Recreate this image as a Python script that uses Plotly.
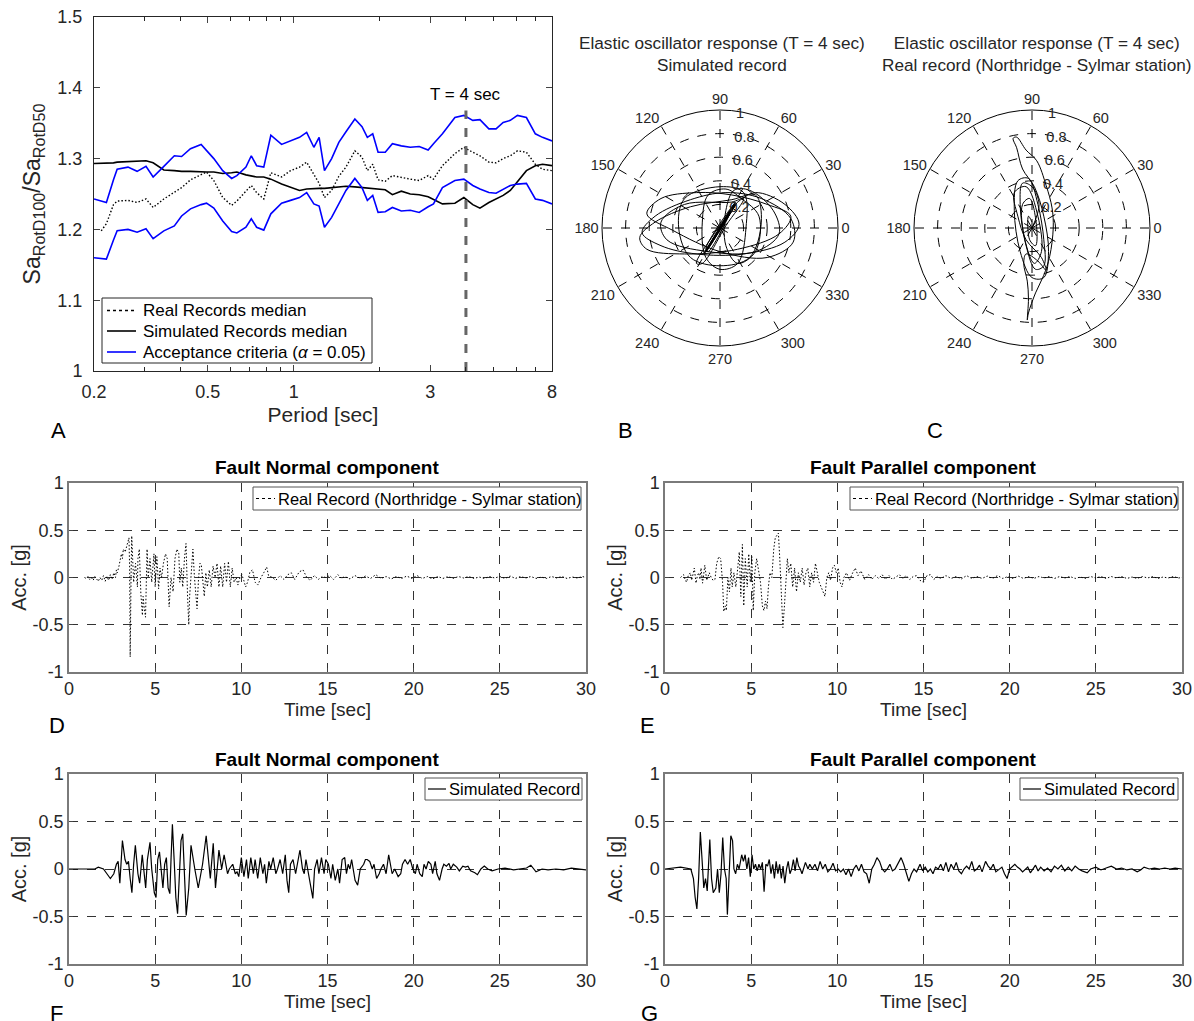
import plotly.graph_objects as go
import numpy as np

FONT = "Liberation Sans, Arial, Helvetica, sans-serif"

# ---------------- Panel A data ----------------
period = [0.2,0.212,0.221,0.234,0.241,0.263,0.283,0.304,0.322,0.351,0.382,0.405,0.435,0.474,0.495,
          0.525,0.564,0.606,0.632,0.680,0.710,0.741,0.785,0.831,0.906,0.974,1.047,1.109,1.175,1.226,
          1.280,1.356,1.437,1.522,1.635,1.732,1.808,1.888,1.971,2.088,2.212,2.377,2.554,2.745,2.950,
          3.080,3.310,3.660,3.934,4.227,4.477,4.812,5.097,5.398,5.718,6.056,6.510,6.995,7.410,8.0]
upper_crit = [1.243,1.240,1.238,1.270,1.285,1.288,1.282,1.289,1.274,1.289,1.304,1.303,1.314,1.320,1.311,
              1.300,1.283,1.272,1.276,1.288,1.304,1.290,1.288,1.333,1.320,1.325,1.330,1.337,1.316,1.330,
              1.283,1.300,1.323,1.338,1.356,1.345,1.330,1.335,1.309,1.309,1.321,1.318,1.316,1.317,1.312,
              1.321,1.335,1.358,1.361,1.354,1.355,1.342,1.342,1.351,1.354,1.361,1.358,1.335,1.330,1.325]
lower_crit = [1.160,1.159,1.158,1.185,1.198,1.200,1.196,1.201,1.187,1.198,1.205,1.219,1.229,1.235,1.237,
              1.230,1.212,1.197,1.195,1.203,1.215,1.203,1.199,1.222,1.237,1.241,1.245,1.252,1.236,1.233,
              1.203,1.217,1.236,1.255,1.272,1.259,1.241,1.248,1.224,1.225,1.231,1.226,1.227,1.224,1.232,
              1.236,1.259,1.269,1.271,1.262,1.257,1.252,1.251,1.257,1.262,1.264,1.265,1.243,1.241,1.236]
real_median = [None,1.198,1.208,1.235,1.240,1.241,1.238,1.243,1.231,1.243,1.253,1.259,1.270,1.277,1.281,
               1.269,1.245,1.234,1.240,1.254,1.262,1.252,1.243,1.280,1.274,1.283,1.288,1.295,1.278,1.265,
               1.245,1.255,1.275,1.288,1.311,1.302,1.283,1.292,1.270,1.268,1.276,1.273,1.271,1.269,1.276,
               1.271,1.290,1.307,1.316,1.309,1.304,1.295,1.294,1.300,1.304,1.311,1.309,1.292,1.285,1.283]
sim_median = [1.293,1.293,1.293,1.294,1.295,1.296,1.297,1.297,1.294,1.284,1.283,1.282,1.282,1.281,1.281,
              1.281,1.279,1.280,1.281,1.277,1.276,1.274,1.274,1.271,1.264,1.259,1.255,1.257,1.258,1.258,
              1.258,1.259,1.261,1.261,1.260,1.259,1.258,1.258,1.257,1.256,1.249,1.254,1.250,1.249,1.246,
              1.242,1.236,1.237,1.245,1.235,1.230,1.238,1.243,1.248,1.255,1.268,1.283,1.290,1.292,1.290]
T_marker = 4.0
A_xticks = [0.2, 0.5, 1, 3, 8]
A_minor = [0.3, 0.4, 0.6, 0.7, 0.8, 0.9, 2, 4, 5, 6, 7]
A_legend = ["Real Records median", "Simulated Records median", "Acceptance criteria (<i>α</i> = 0.05)"]

# ---------------- Polar data (oscillator displacement orbits, normalised) ----------------
simB_x = [0.0,0.05,0.12,0.10,-0.10,-0.12,0.13,0.14,-0.11,-0.13,0.12,0.10,-0.12,-0.10,0.13,0.11,-0.12,-0.13,0.14,
          0.15,0.30,0.55,0.67,0.55,0.20,-0.20,-0.50,-0.66,-0.55,-0.25,0.05,
          0.35,0.60,0.62,0.40,0.00,-0.40,-0.62,-0.50,-0.20,0.10,
          0.40,0.60,0.50,0.15,-0.30,-0.62,-0.68,-0.55,-0.25,0.10,
          0.30,0.35,0.25,0.00,-0.25,-0.35,-0.30,0.00,0.20,
          0.22,0.15,0.00,-0.12,-0.15,-0.10,0.05,0.18,
          0.33,0.30,0.15,0.05,0.05,0.12,0.25,
          0.45,0.50,0.30,-0.10,-0.45,-0.50,-0.30,0.10,
          0.20,0.05,-0.15,-0.20,-0.05,0.12,0.13,-0.11,-0.12,0.12,0.11,-0.10,-0.11,0.10,0.12,-0.09,-0.1,0.08,0.0]
simB_y = [0.0,0.08,0.20,0.15,-0.17,-0.20,0.19,0.21,-0.19,-0.21,0.20,0.18,-0.18,-0.20,0.22,0.19,-0.19,-0.21,0.21,
          0.22,0.30,0.20,0.03,-0.12,-0.22,-0.22,-0.15,-0.04,0.10,0.24,0.30,
          0.25,0.08,-0.12,-0.25,-0.20,-0.02,0.12,0.25,0.30,0.28,
          0.20,0.10,-0.05,-0.18,-0.22,-0.18,-0.08,0.05,0.18,0.24,
          0.28,0.05,-0.25,-0.32,-0.25,0.00,0.25,0.35,0.30,
          0.00,-0.30,-0.35,-0.25,0.05,0.28,0.33,0.25,
          0.10,-0.20,-0.30,-0.15,0.15,0.32,0.32,
          0.15,-0.05,-0.20,-0.20,-0.10,0.05,0.20,0.22,
          0.25,0.02,-0.30,-0.30,-0.05,0.19,0.20,-0.18,-0.19,0.19,0.18,-0.17,-0.18,0.16,0.19,-0.16,-0.17,0.14,0.0]
realC_x = [0.0,0.06,0.00,-0.08,-0.10,-0.05,0.03,0.10,0.10,0.05,-0.03,-0.12,-0.15,-0.10,0.00,0.10,0.14,
           0.10,0.02,-0.08,-0.13,-0.16,-0.13,-0.05,0.04,0.12,0.17,0.18,0.15,0.10,0.03,-0.03,-0.04,
           -0.03,-0.04,-0.07,-0.05,0.05,0.12,0.08,-0.05,-0.12,-0.15,-0.05,0.05,0.08,0.02,-0.06,-0.08,
           -0.02,0.04,0.03,-0.02,-0.03,0.0]
realC_y = [0.0,0.20,0.35,0.38,0.20,-0.15,-0.35,-0.32,-0.10,0.20,0.42,0.40,0.15,-0.20,-0.42,-0.42,-0.20,
           0.10,0.35,0.50,0.68,0.76,0.77,0.66,0.57,0.36,0.17,0.00,-0.24,-0.40,-0.55,-0.72,-0.78,
           -0.60,-0.45,-0.30,-0.22,-0.28,-0.36,-0.25,-0.10,0.10,0.30,0.35,0.10,-0.20,-0.30,-0.10,0.20,
           0.25,0.00,-0.15,-0.10,0.10,0.05]
polar_angles = [0, 30, 60, 90, 120, 150, 180, 210, 240, 270, 300, 330]
polar_rticks = [0.2, 0.4, 0.6, 0.8, 1.0]

# ---------------- Panel D: real record, fault normal ----------------
D_t = [0.9,1.0,1.1,1.2,1.3,1.4,1.5,1.6,1.7,1.8,1.9,2.0,2.1,2.2,2.3,2.4,2.5,2.6,2.7,2.75,
       2.8,2.9,3.04,3.1,3.15,3.26,3.37,3.48,3.52,3.55,3.6,3.64,3.75,3.86,3.97,4.0,4.08,4.17,4.26,4.3,
       4.35,4.44,4.53,4.6,4.7,4.8,4.93,5.0,5.1,5.2,5.28,5.37,5.48,5.6,5.7,5.81,5.92,6.04,6.15,6.26,
       6.37,6.43,6.52,6.6,6.7,6.79,6.88,6.95,7.0,7.1,7.19,7.28,7.37,7.43,7.52,7.6,7.68,7.77,7.85,7.94,
       8.03,8.14,8.25,8.36,8.48,8.59,8.7,8.8,8.92,9.03,9.14,9.25,9.36,9.47,9.58,9.7,9.8,9.92,10.03,10.14,
       10.25,10.36,10.5,10.65,10.8,10.96,11.14,11.3,11.47,11.58,11.8,12.0,12.25,12.47,12.7,12.9,13.1,13.36,13.58,13.8,
       14.0,14.24,14.47,14.7,14.9,15.13,15.35,15.6,15.8,16.0,16.3,16.6,16.9,17.2,17.5,17.8,18.1,18.4,18.7,19.0,
       19.3,19.6,19.9,20.2,20.5,20.8,21.1,21.4,21.7,22.0,22.3,22.6,22.9,23.2,23.5,23.8,24.1,24.4,24.7,25.0,
       25.3,25.6,25.9,26.2,26.5,26.8,27.1,27.4,27.7,28.0,28.3,28.6,28.9,29.2,29.5,29.8,30.0]
D_a = [0.0,-0.01,0.01,-0.02,0.0,-0.03,0.01,-0.02,-0.04,0.0,-0.03,0.02,-0.04,0.01,-0.03,0.03,-0.02,0.05,0.0,0.08,
       0.05,0.12,0.25,0.2,0.3,0.27,0.35,0.42,0.1,-0.84,0.0,0.44,-0.05,0.15,-0.1,0.2,0.3,-0.17,-0.4,-0.2,
       -0.3,-0.42,0.3,0.0,0.2,-0.05,0.25,-0.1,0.22,-0.12,0.1,0.0,0.15,0.25,0.2,-0.31,0.0,-0.15,0.2,0.3,
       0.26,-0.05,0.1,-0.1,0.2,0.36,-0.2,-0.5,-0.2,0.1,0.3,0.0,-0.25,-0.33,0.0,0.15,0.13,-0.05,-0.2,0.05,
       -0.1,0.08,-0.1,0.12,0.0,0.15,-0.1,0.12,-0.1,0.15,-0.05,0.17,-0.1,0.1,-0.05,0.0,-0.08,0.0,0.03,-0.03,
       -0.1,-0.05,0.06,0.08,-0.05,-0.08,0.0,0.05,0.11,0.02,0.0,-0.03,0.02,-0.02,0.03,0.05,-0.02,0.06,0.08,0.0,
       -0.03,0.02,-0.02,0.01,0.0,0.02,-0.02,0.03,-0.01,0.01,-0.015,0.02,-0.01,0.015,-0.01,0.03,-0.01,0.01,-0.015,0.01,
       -0.01,0.015,-0.01,0.02,-0.01,0.01,-0.015,0.01,-0.01,0.01,-0.01,0.01,-0.005,0.01,-0.01,0.005,-0.01,0.01,-0.005,0.01,
       -0.01,0.015,-0.01,0.01,-0.005,0.01,-0.01,0.005,-0.01,0.01,-0.005,0.01,-0.01,0.005,-0.005,0.01,0.0]

# ---------------- Panel E: real record, fault parallel ----------------
E_t = [0.9,1.0,1.08,1.16,1.25,1.35,1.47,1.55,1.62,1.7,1.8,1.88,1.96,2.03,2.09,2.18,2.25,2.31,2.42,2.5,
       2.57,2.68,2.79,2.9,3.0,3.12,3.23,3.34,3.41,3.5,3.56,3.65,3.74,3.83,3.9,4.0,4.11,4.22,4.31,4.4,
       4.49,4.57,4.66,4.77,4.86,4.95,5.04,5.12,5.21,5.32,5.43,5.54,5.65,5.74,5.83,5.92,6.0,6.09,6.2,6.31,
       6.4,6.49,6.58,6.66,6.75,6.84,6.93,7.02,7.1,7.19,7.3,7.41,7.52,7.63,7.74,7.85,7.96,8.07,8.18,8.29,
       8.4,8.51,8.62,8.73,8.84,8.95,9.06,9.17,9.28,9.39,9.5,9.61,9.72,9.83,9.94,10.05,10.16,10.27,10.38,10.53,
       10.71,10.89,11.04,11.2,11.37,11.59,11.81,12.0,12.2,12.4,12.6,12.8,13.0,13.2,13.4,13.6,13.8,14.0,14.2,14.4,
       14.6,14.8,15.0,15.2,15.4,15.6,15.8,16.0,16.3,16.6,16.9,17.2,17.5,17.8,18.1,18.4,18.7,19.0,19.3,19.6,
       19.9,20.2,20.5,20.8,21.1,21.4,21.7,22.0,22.3,22.6,22.9,23.2,23.5,23.8,24.1,24.4,24.7,25.0,25.3,25.6,
       25.9,26.2,26.5,26.8,27.1,27.4,27.7,28.0,28.3,28.6,28.9,29.2,29.5,29.8,30.0]
E_a = [0.0,0.02,0.03,-0.02,-0.05,0.02,0.05,-0.03,0.04,0.1,-0.06,0.02,0.05,-0.02,0.1,-0.06,0.04,0.13,-0.03,0.02,
       0.05,0.0,-0.03,-0.02,0.15,0.22,0.2,-0.05,-0.36,-0.3,-0.35,0.0,-0.15,0.1,-0.1,0.05,-0.1,0.1,0.27,-0.2,
       0.35,-0.3,0.2,-0.1,0.25,-0.05,0.22,-0.35,0.05,0.2,0.05,-0.05,-0.3,-0.35,-0.25,-0.33,-0.1,0.05,0.0,0.3,
       0.42,0.45,0.47,0.2,-0.2,-0.53,-0.3,0.0,0.2,0.05,0.15,-0.1,0.1,-0.15,0.05,-0.05,0.1,-0.08,0.05,0.1,
       -0.1,0.05,-0.05,0.15,0.05,-0.05,-0.1,-0.15,-0.2,0.0,0.05,-0.03,0.1,0.13,0.05,0.1,-0.05,-0.1,0.0,0.05,
       -0.03,0.05,0.1,0.02,0.07,-0.02,0.03,-0.02,0.02,-0.01,0.03,-0.02,0.02,-0.02,0.01,0.03,-0.01,0.02,-0.02,0.01,
       0.02,-0.03,-0.05,0.02,0.03,-0.02,0.01,-0.01,0.02,-0.01,0.01,-0.015,0.02,-0.01,0.01,-0.01,0.015,-0.01,0.02,-0.01,
       0.01,-0.01,0.015,-0.01,0.01,-0.01,0.01,-0.005,0.01,-0.01,0.01,-0.005,0.01,-0.01,0.005,-0.01,0.01,-0.005,0.01,-0.01,
       0.01,-0.005,0.01,-0.01,0.005,-0.01,0.01,-0.005,0.01,-0.01,0.005,-0.005,0.01,-0.005,0.0]

# ---------------- Panel F: simulated, fault normal ----------------
F_t = [0.0,1.0,1.5,1.7,2.0,2.2,2.4,2.6,2.75,2.85,2.95,3.1,3.25,3.35,3.45,3.55,3.65,3.75,3.85,4.0,
       4.1,4.25,4.35,4.45,4.55,4.7,4.8,4.95,5.05,5.15,5.25,5.35,5.45,5.55,5.65,5.75,5.85,5.92,6.0,6.1,
       6.2,6.3,6.4,6.5,6.6,6.7,6.8,6.95,7.08,7.3,7.5,7.75,7.96,8.2,8.37,8.5,8.7,8.86,9.0,9.2,
       9.3,9.5,9.65,9.75,9.85,10.0,10.15,10.3,10.4,10.55,10.7,10.8,10.95,11.1,11.25,11.35,11.45,11.6,11.7,11.85,
       12.0,12.1,12.25,12.4,12.55,12.65,12.75,12.85,13.0,13.15,13.25,13.4,13.55,13.65,13.75,13.85,14.0,14.15,14.25,14.4,
       14.5,14.65,14.8,14.9,15.05,15.2,15.3,15.45,15.6,15.7,15.85,16.0,16.1,16.2,16.3,16.4,16.6,16.75,16.9,17.1,
       17.2,17.3,17.45,17.6,17.7,17.85,18.0,18.1,18.25,18.4,18.55,18.65,18.75,18.9,19.1,19.25,19.35,19.5,19.65,19.8,
       19.95,20.1,20.2,20.35,20.5,20.6,20.72,20.85,21.0,21.1,21.25,21.35,21.5,21.65,21.75,21.9,22.05,22.15,22.3,22.5,
       22.65,22.85,23.0,23.15,23.3,23.55,23.7,23.9,24.1,24.3,24.55,24.9,25.3,25.8,26.2,26.55,26.8,26.95,27.1,27.45,
       27.8,28.25,28.7,29.15,29.6,30.0]
F_a = [0.0,0.0,0.0,0.02,0.0,-0.05,-0.1,-0.05,0.05,0.08,-0.15,0.3,0.1,0.05,0.08,-0.1,-0.25,0.05,0.25,-0.05,
       -0.15,0.15,0.0,-0.2,0.1,0.28,0.0,-0.25,-0.3,0.1,0.18,-0.05,-0.2,0.05,0.12,-0.2,-0.26,0.1,0.47,0.1,
       -0.3,-0.47,0.0,0.3,0.37,0.0,-0.49,-0.2,0.25,0.0,-0.2,0.05,0.35,-0.1,0.27,-0.2,0.2,0.0,0.15,-0.05,
       0.0,0.05,-0.05,-0.03,-0.08,0.12,-0.08,0.1,-0.1,0.12,-0.05,0.1,-0.1,0.12,-0.05,0.05,-0.15,0.08,0.0,0.12,
       -0.05,0.0,0.1,-0.05,0.15,-0.12,-0.25,0.05,0.1,-0.05,0.05,0.2,0.0,-0.05,0.1,0.0,-0.15,-0.31,0.0,0.1,
       -0.05,0.12,-0.05,0.1,0.05,-0.1,0.05,-0.12,0.0,-0.15,0.1,0.12,-0.05,0.05,0.0,0.1,-0.12,-0.17,0.0,0.05,
       0.1,0.1,0.08,0.0,0.05,-0.1,-0.05,0.0,0.05,-0.05,0.15,0.05,-0.05,0.0,-0.08,-0.05,0.05,0.1,0.05,0.1,
       0.0,-0.05,0.05,-0.05,-0.08,0.05,0.0,0.08,0.05,-0.05,0.08,-0.05,-0.12,0.0,0.05,0.03,0.06,0.0,0.05,0.02,
       -0.02,0.03,0.02,0.03,-0.02,-0.04,-0.06,0.0,0.03,0.0,-0.02,0.0,0.01,-0.01,0.0,0.01,0.04,0.0,-0.03,0.0,
       -0.01,0.0,-0.01,0.01,0.0,-0.01]

# ---------------- Panel G: simulated, fault parallel ----------------
G_t = [0.0,0.9,1.5,1.65,1.75,1.85,1.95,2.05,2.15,2.25,2.35,2.45,2.6,2.7,2.8,2.95,3.05,3.15,3.25,3.35,
       3.45,3.55,3.62,3.72,3.82,3.92,4.0,4.1,4.2,4.3,4.45,4.55,4.65,4.75,4.85,4.95,5.05,5.15,5.25,5.35,
       5.45,5.55,5.65,5.75,5.85,5.95,6.05,6.15,6.25,6.35,6.45,6.55,6.65,6.75,6.85,6.95,7.05,7.15,7.25,7.35,
       7.45,7.55,7.65,7.75,7.85,7.95,8.05,8.15,8.3,8.4,8.55,8.7,8.85,9.0,9.15,9.3,9.45,9.6,9.75,9.9,
       10.05,10.2,10.35,10.5,10.65,10.8,10.95,11.1,11.25,11.4,11.55,11.7,11.85,12.0,12.15,12.3,12.45,12.6,12.75,12.9,
       13.05,13.2,13.35,13.5,13.7,13.85,14.0,14.15,14.3,14.45,14.6,14.8,14.95,15.1,15.25,15.4,15.55,15.7,15.85,16.0,
       16.15,16.3,16.45,16.6,16.75,16.9,17.05,17.2,17.35,17.5,17.65,17.8,17.95,18.1,18.25,18.4,18.6,18.75,18.9,19.05,
       19.2,19.4,19.55,19.7,19.85,20.0,20.15,20.3,20.45,20.6,20.75,20.9,21.05,21.2,21.35,21.5,21.65,21.8,22.0,22.2,
       22.4,22.6,22.8,23.0,23.2,23.4,23.6,23.8,24.0,24.2,24.5,24.7,25.0,25.3,25.6,25.9,26.2,26.5,26.8,27.1,
       27.4,27.6,27.8,28.1,28.4,28.7,29.0,29.3,29.6,30.0]
G_a = [0.0,0.02,0.0,-0.1,-0.3,-0.42,-0.1,0.39,0.1,-0.2,-0.1,-0.23,0.31,-0.1,-0.25,-0.2,0.0,-0.25,-0.05,0.33,
       0.0,-0.1,-0.48,0.0,0.35,0.3,0.0,-0.05,0.05,0.0,0.15,0.08,0.15,0.0,0.12,-0.08,0.15,0.0,0.05,-0.02,
       0.05,0.0,0.07,-0.24,0.05,0.03,0.1,-0.05,0.05,-0.1,0.08,-0.05,0.05,-0.1,0.03,-0.15,0.0,0.08,-0.05,0.0,
       0.1,-0.02,0.12,0.03,0.0,-0.05,0.02,0.07,0.0,0.05,0.0,0.05,-0.02,0.08,0.0,0.05,-0.03,0.0,0.06,-0.02,
       0.0,-0.03,0.0,-0.06,0.0,-0.08,0.0,0.04,-0.02,0.05,-0.03,-0.05,-0.15,0.0,0.05,0.12,0.08,0.0,-0.03,0.0,
       0.05,-0.02,0.0,0.05,0.12,0.05,-0.05,-0.13,-0.05,0.0,-0.03,0.05,-0.02,0.02,-0.03,0.0,-0.05,0.02,0.0,0.05,
       -0.02,0.07,-0.03,0.05,0.0,0.07,-0.02,-0.05,0.0,0.03,0.0,0.08,-0.02,0.0,0.04,-0.03,0.08,0.03,0.0,0.05,
       -0.03,0.0,0.02,-0.05,-0.1,0.0,0.03,0.05,0.02,0.0,-0.03,0.0,0.02,-0.04,0.0,0.04,-0.02,0.02,-0.02,0.01,
       -0.03,0.03,0.0,0.04,-0.02,0.02,-0.02,0.03,0.0,-0.02,-0.04,0.0,0.02,-0.01,0.01,0.03,0.0,0.01,-0.01,0.0,
       -0.03,-0.01,0.02,0.0,0.01,0.0,0.01,0.0,0.01,0.0]

ts_xticks = [0, 5, 10, 15, 20, 25, 30]
ts_yticks = [-1, -0.5, 0, 0.5, 1]
real_label = "Real Record (Northridge - Sylmar station)"
sim_label = "Simulated Record"

# ---------------- Figure ----------------
W, H = 1194, 1021
def px(x): return x / W
def py(y): return 1 - y / H

DOT = "1.5px,2px"
fig = go.Figure()

# Panel A traces
fig.add_trace(go.Scatter(x=period, y=real_median, mode="lines", name=A_legend[0], showlegend=False,
                         line=dict(color="black", width=1.4, dash=DOT)))
fig.add_trace(go.Scatter(x=period, y=sim_median, mode="lines", name=A_legend[1], showlegend=False,
                         line=dict(color="black", width=1.6)))
fig.add_trace(go.Scatter(x=period, y=upper_crit, mode="lines", name=A_legend[2], showlegend=False,
                         line=dict(color="#0000ff", width=1.6)))
fig.add_trace(go.Scatter(x=period, y=lower_crit, mode="lines", showlegend=False,
                         line=dict(color="#0000ff", width=1.6)))
fig.add_trace(go.Scatter(x=[T_marker, T_marker], y=[1.0, 1.368], mode="lines", showlegend=False,
                         line=dict(color="#666666", width=3, dash="dash")))

# Polar traces
def to_polar(xs, ys):
    xs = np.asarray(xs); ys = np.asarray(ys)
    return np.hypot(xs, ys), np.degrees(np.arctan2(ys, xs))

rB, thB = to_polar(simB_x, simB_y)
rC, thC = to_polar(realC_x, realC_y)
fig.add_trace(go.Scatterpolar(r=rB, theta=thB, mode="lines", showlegend=False,
                              line=dict(color="black", width=1, shape="spline", smoothing=1.0), subplot="polar"))
fig.add_trace(go.Scatterpolar(r=rC, theta=thC, mode="lines", showlegend=False,
                              line=dict(color="black", width=1, shape="spline", smoothing=1.0), subplot="polar2"))

# Time series
fig.add_trace(go.Scatter(x=D_t, y=D_a, mode="lines", name=real_label, showlegend=False,
                         line=dict(color="black", width=1, dash=DOT), xaxis="x2", yaxis="y2"))
fig.add_trace(go.Scatter(x=E_t, y=E_a, mode="lines", name=real_label, showlegend=False,
                         line=dict(color="black", width=1, dash=DOT), xaxis="x3", yaxis="y3"))
fig.add_trace(go.Scatter(x=F_t, y=F_a, mode="lines", name=sim_label, showlegend=False,
                         line=dict(color="black", width=1.2), xaxis="x4", yaxis="y4"))
fig.add_trace(go.Scatter(x=G_t, y=G_a, mode="lines", name=sim_label, showlegend=False,
                         line=dict(color="black", width=1.2), xaxis="x5", yaxis="y5"))

tick_font = dict(family=FONT, size=18, color="#262626")

layout = dict(
    width=W, height=H, margin=dict(l=0, r=0, t=0, b=0, autoexpand=False),
    paper_bgcolor="white", plot_bgcolor="white", showlegend=False,
    font=dict(family=FONT, color="#262626"),
    xaxis=dict(domain=[px(94), px(552)], type="log", range=[np.log10(0.2), np.log10(8)],
               tickvals=A_xticks, ticktext=[str(v) for v in A_xticks], ticks="inside", ticklen=6,
               showline=True, linecolor="#262626", linewidth=1, mirror="ticks", showgrid=False,
               tickfont=tick_font, automargin=False, ticklabelstandoff=4,
               minor=dict(tickvals=A_minor, ticks="inside", ticklen=4, tickcolor="#262626"),
               title=dict(text="Period [sec]", font=dict(family=FONT, size=21, color="#262626"), standoff=6),
               anchor="y"),
    yaxis=dict(domain=[py(371), py(17)], range=[1, 1.5], tickvals=[1, 1.1, 1.2, 1.3, 1.4, 1.5],
               ticktext=["1", "1.1", "1.2", "1.3", "1.4", "1.5"], ticks="inside", ticklen=6,
               showline=True, linecolor="#262626", linewidth=1, mirror="ticks", showgrid=False,
               tickfont=tick_font, zeroline=False, automargin=False, ticklabelstandoff=7,
               title=dict(text="Sa<sub>RotD100</sub>/Sa<sub>RotD50</sub>", font=dict(family=FONT, size=23, color="#262626"), standoff=10),
               anchor="x"),
)

polar_common = dict(
    bgcolor="white",
    angularaxis=dict(tickvals=polar_angles, ticktext=[str(a) for a in polar_angles], rotation=0,
                     direction="counterclockwise", showline=True, linecolor="black", linewidth=1,
                     showgrid=True, gridcolor="black", gridwidth=0.8, griddash="dash", ticks="",
                     tickfont=dict(family=FONT, size=14.5, color="#262626")),
    radialaxis=dict(range=[0, 1], tickvals=polar_rticks, ticktext=["0.2", "0.4", "0.6", "0.8", "1"],
                    angle=86, tickangle=86, showline=False, showgrid=True, gridcolor="black", gridwidth=0.8,
                    griddash="dash", ticks="", side="clockwise",
                    tickfont=dict(family=FONT, size=14.5, color="#262626")),
)
layout["polar"] = dict(domain=dict(x=[px(602), px(838)], y=[py(346), py(110)]), **polar_common)
layout["polar2"] = dict(domain=dict(x=[px(914), px(1150)], y=[py(346), py(110)]), **polar_common)

ts_panels = [  # axis index, x range pixels, y range pixels
    (2, 69, 586, 483, 672),
    (3, 665, 1182, 483, 672),
    (4, 69, 586, 774, 964),
    (5, 665, 1182, 774, 964),
]
for idx, x0, x1, y0, y1 in ts_panels:
    layout[f"xaxis{idx}"] = dict(domain=[px(x0), px(x1)], range=[0, 30], tickvals=ts_xticks,
                                 ticks="inside", ticklen=4, showline=True, linecolor="#7a7a7a", linewidth=1.5,
                                 mirror=True, showgrid=True, gridcolor="#333333", gridwidth=1, griddash="dash",
                                 zeroline=False, automargin=False,
                                 tickfont=dict(family=FONT, size=18, color="#262626"),
                                 title=dict(text="Time [sec]", font=dict(family=FONT, size=19, color="#262626"), standoff=4),
                                 anchor=f"y{idx}")
    layout[f"yaxis{idx}"] = dict(domain=[py(y1), py(y0)], range=[-1, 1], tickvals=ts_yticks,
                                 ticktext=["-1", "-0.5", "0", "0.5", "1"],
                                 ticks="inside", ticklen=4, showline=True, linecolor="#7a7a7a", linewidth=1.5,
                                 mirror=True, showgrid=True, gridcolor="#333333", gridwidth=1, griddash="dash",
                                 zeroline=False, automargin=False,
                                 tickfont=dict(family=FONT, size=18, color="#262626"),
                                 title=dict(text="Acc. [g]", font=dict(family=FONT, size=20, color="#262626"), standoff=1),
                                 anchor=f"x{idx}")

fig.update_layout(**layout)

# ---------------- Legends drawn as boxes (MATLAB style) ----------------
shapes = []
annotations = []

def legend_box(x0, y0, x1, y1, border):
    shapes.append(dict(type="rect", xref="paper", yref="paper", x0=px(x0), x1=px(x1), y0=py(y1), y1=py(y0),
                       line=dict(color=border, width=1), fillcolor="white", layer="above"))

def legend_row(xs0, xs1, xt, y, text, color, dash, width, size):
    shapes.append(dict(type="line", xref="paper", yref="paper", x0=px(xs0), x1=px(xs1), y0=py(y), y1=py(y),
                       line=dict(color=color, width=width, dash=dash), layer="above"))
    annotations.append(dict(text=text, x=px(xt), y=py(y), xref="paper", yref="paper", showarrow=False,
                            xanchor="left", yanchor="middle", font=dict(family=FONT, size=size, color="black")))

legend_box(102, 298, 372, 363, "#262626")
legend_row(107, 136, 141, 310.5, A_legend[0], "black", "dot", 1.4, 17)
legend_row(107, 136, 141, 331, A_legend[1], "black", "solid", 1.6, 17)
legend_row(107, 136, 141, 352, A_legend[2], "#0000ff", "solid", 1.6, 17)

legend_box(253, 487, 581, 510, "#555555")
legend_row(256, 275, 276, 498.5, real_label, "black", "dot", 1, 16.5)
legend_box(850, 487, 1178, 510, "#555555")
legend_row(853, 872, 873, 498.5, real_label, "black", "dot", 1, 16.5)
legend_box(425, 778, 582, 800, "#555555")
legend_row(428, 446, 447, 789, sim_label, "black", "solid", 1.2, 16.5)
legend_box(1020, 778, 1178, 800, "#555555")
legend_row(1023, 1041, 1042, 789, sim_label, "black", "solid", 1.2, 16.5)

# Panel letters
for txt, x, y in [("A", 58, 431), ("B", 625, 431), ("C", 935, 431), ("D", 57, 725), ("E", 647, 725),
                  ("F", 56, 1013), ("G", 650, 1013)]:
    annotations.append(dict(text=txt, x=px(x), y=py(y), xref="paper", yref="paper", showarrow=False,
                            xanchor="center", yanchor="middle",
                            font=dict(family=FONT, size=22, color="black")))
# Polar titles
for cx, line2 in [(722, "Simulated record"), (1036, "Real record (Northridge - Sylmar station)")]:
    annotations.append(dict(text="Elastic oscillator response (T = 4 sec)<br>" + line2, x=px(cx), y=py(54),
                            xref="paper", yref="paper", showarrow=False, xanchor="center", yanchor="middle",
                            font=dict(family=FONT, size=17.2, color="#262626")))
# Time series titles
for cx, cy, txt in [(327, 467, "Fault Normal component"), (923, 467, "Fault Parallel component"),
                    (327, 759, "Fault Normal component"), (923, 759, "Fault Parallel component")]:
    annotations.append(dict(text="<b>" + txt + "</b>", x=px(cx), y=py(cy), xref="paper", yref="paper",
                            showarrow=False, xanchor="center", yanchor="middle",
                            font=dict(family=FONT, size=19, color="black")))
# T = 4 sec label
annotations.append(dict(text="T = 4 sec", x=np.log10(T_marker), y=1.39, xref="x", yref="y", showarrow=False,
                        xanchor="center", yanchor="middle",
                        font=dict(family=FONT, size=17, color="black")))
fig.update_layout(annotations=annotations, shapes=shapes)

fig.write_html("out.html", config={"displayModeBar": False},
               post_script="document.body.style.margin='0px';document.body.style.overflow='hidden';")
